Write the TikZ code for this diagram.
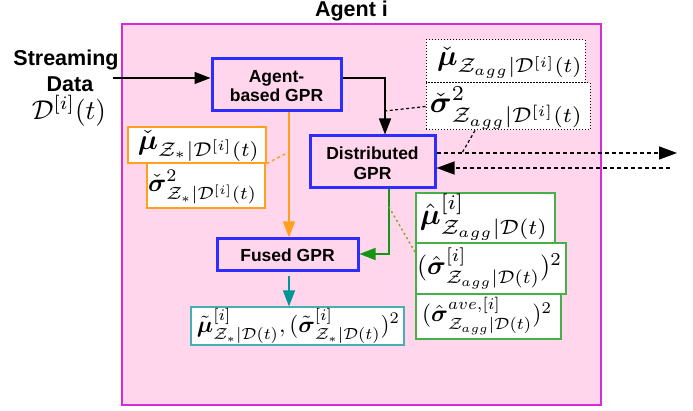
\documentclass[tikz,border=0pt]{standalone}
\usepackage{amsmath,amssymb}
\usepackage{graphicx}
\usepackage{fontspec}
\setmainfont{Liberation Sans}
\usetikzlibrary{arrows.meta,calc}
\definecolor{pinkfill}{RGB}{255,214,235}
\definecolor{magborder}{RGB}{214,43,214}
\definecolor{bluebox}{RGB}{45,45,255}
\definecolor{orangec}{RGB}{255,160,30}
\definecolor{greenarr}{RGB}{20,150,20}
\definecolor{greenbox}{RGB}{70,175,70}
\definecolor{olivedot}{RGB}{130,170,40}
\definecolor{tealc}{RGB}{0,150,150}
\definecolor{tealbox}{RGB}{70,175,175}
\newcommand{\fitw}[2]{\resizebox{#1}{!}{$#2$}}
\begin{document}
\begin{tikzpicture}[x=1pt,y=-1pt,
  lbl/.style={font=\bfseries\fontsize{17.5}{19.5}\selectfont, align=center, inner sep=0pt},
  big/.style={font=\bfseries\fontsize{21.5}{24}\selectfont, align=center, inner sep=0pt},
  gprbox/.style={draw=bluebox, line width=3pt, fill=pinkfill, rectangle, inner sep=0pt},
  fbox/.style={rectangle, fill=white, inner sep=0pt},
  mtext/.style={inner sep=0pt},
  arr/.style={line width=1.5pt, -{Triangle[length=16pt,width=12pt]}},
  darr/.style={line width=1.5pt, dash pattern=on 4pt off 3pt, -{Triangle[length=18pt,width=13pt]}},
  ]
\useasboundingbox (0,0) rectangle (693,411);
% agent frame
\node[draw=magborder, line width=2pt, fill=pinkfill, rectangle, minimum width=479pt, minimum height=381pt, inner sep=0pt] (frame) at (361.5,214.5) {};
\node[big] (title) at (351.5,11) {Agent i};
% streaming data
\node[big] (sd1) at (66,60) {Streaming};
\node[big] (sd2) at (70,84) {Data};
\node[mtext] (sd3) at (69,111) {\fitw{74pt}{\mathcal{D}^{[i]}(t)}};
% GPR boxes
\node[gprbox, minimum width=129pt, minimum height=52pt] (agent) at (276.5,85) {};
\node[lbl] (agentt) at (276.5,86) {Agent-\\based GPR};
\node[gprbox, minimum width=125pt, minimum height=52pt] (dist) at (372.5,162) {};
\node[lbl] (distt) at (372.5,163) {Distributed\\GPR};
\node[gprbox, minimum width=141pt, minimum height=32pt] (fused) at (287.5,255) {};
\node[lbl] (fusedt) at (287.5,255) {Fused GPR};
% coordinates
\coordinate (s0) at (113,78);
\coordinate (c1) at (385,78);
\coordinate (ox) at (289,0);
\coordinate (gx) at (389,254);
\coordinate (r1) at (677,153);
\coordinate (r2) at (670,168);
\coordinate (d1) at (385,111);
\coordinate (d2) at (462,153);
\coordinate (o2) at (289,152);
\coordinate (g0) at (389,207);
% connectors
\draw[arr] (s0) -- (s0 -| agent.west);
\draw[arr] (s0 -| agent.east) -- (c1) -- (c1 |- dist.north);
\draw[arr, draw=orangec] (ox |- agent.south) -- (ox |- fused.north);
\draw[arr, draw=greenarr] (gx |- dist.south) -- (gx) -- (gx -| fused.east);
\draw[darr] (dist.east |- r1) -- (r1);
\draw[darr] (r2) -- (dist.east |- r2);
% output box
\node[fbox, draw=tealbox, line width=1.2pt, minimum width=213pt, minimum height=38pt] (out) at (297.5,326) {};
\node[mtext] (outt) at (298.5,326) {\fitw{203pt}{\tilde{\boldsymbol{\mu}}^{[i]}_{\mathcal{Z}_*|\mathcal{D}(t)}, (\tilde{\boldsymbol{\sigma}}^{[i]}_{\mathcal{Z}_*|\mathcal{D}(t)})^2}};
\draw[arr, draw=tealc] (ox |- fused.south) ++(0,4) -- (ox |- out.north);
% orange boxes
\node[fbox, draw=orangec, line width=1.2pt, minimum width=138pt, minimum height=36pt] (omu) at (197,145) {};
\node[mtext] (omut) at (199,146) {\fitw{122pt}{\check{\boldsymbol{\mu}}_{\mathcal{Z}_*|\mathcal{D}^{[i]}(t)}}};
\node[fbox, draw=orangec, line width=1.2pt, minimum width=118pt, minimum height=45pt] (osig) at (206,185.5) {};
\node[mtext] (osigt) at (202.5,187) {\fitw{109pt}{\check{\boldsymbol{\sigma}}^2_{\mathcal{Z}_*|\mathcal{D}^{[i]}(t)}}};
\draw[draw=orangec, line width=1.5pt, dash pattern=on 3pt off 3pt] (omu.south east) -- (o2);
% dotted boxes
\node[fbox, draw=black, line width=1pt, dotted, minimum width=159pt, minimum height=43pt] (dmu) at (505.5,61.5) {};
\node[mtext] (dmut) at (510,63) {\fitw{146pt}{\check{\boldsymbol{\mu}}_{\mathcal{Z}_{agg}|\mathcal{D}^{[i]}(t)}}};
\node[fbox, draw=black, line width=1pt, dotted, minimum width=164pt, minimum height=47pt] (dsig) at (508,106.5) {};
\node[mtext] (dsigt) at (506.5,108) {\fitw{153pt}{\check{\boldsymbol{\sigma}}^2_{\mathcal{Z}_{agg}|\mathcal{D}^{[i]}(t)}}};
\draw[line width=1.2pt, dash pattern=on 3pt off 2.5pt] (dsig.west) -- (d1);
\draw[line width=1.2pt, dash pattern=on 3pt off 2.5pt] ($(dsig.south west)!0.3!(dsig.south east)$) -- (d2);
% green boxes
\node[fbox, draw=greenbox, line width=1.2pt, minimum width=139pt, minimum height=50pt] (g1) at (485.5,218) {};
\node[mtext] (g1t) at (484,217) {\fitw{128pt}{\hat{\boldsymbol{\mu}}^{[i]}_{\mathcal{Z}_{agg}|\mathcal{D}(t)}}};
\node[fbox, draw=greenbox, line width=1.2pt, minimum width=150pt, minimum height=51pt] (g2) at (491,268.5) {};
\node[mtext] (g2t) at (489.5,268) {\fitw{145pt}{(\hat{\boldsymbol{\sigma}}^{[i]}_{\mathcal{Z}_{agg}|\mathcal{D}(t)})^2}};
\node[fbox, draw=greenbox, line width=1.2pt, minimum width=145pt, minimum height=45pt] (g3) at (488.5,316.5) {};
\node[mtext] (g3t) at (487,316) {\fitw{130pt}{(\hat{\boldsymbol{\sigma}}^{ave,[i]}_{\mathcal{Z}_{agg}|\mathcal{D}(t)})^2}};
\draw[draw=olivedot, line width=1.5pt, dash pattern=on 2pt off 3pt] (g0) -- ($(g2.north west)!0.2!(g2.south west)$);
\end{tikzpicture}
\end{document}
